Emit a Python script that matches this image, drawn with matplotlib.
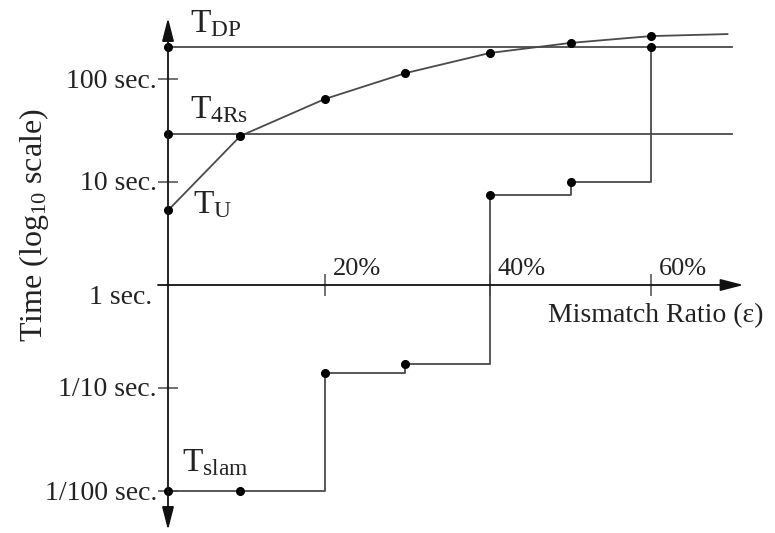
import matplotlib
matplotlib.use('Agg')
import matplotlib.pyplot as plt

plt.rcParams['font.family'] = ['Liberation Serif', 'DejaVu Serif']
plt.rcParams['mathtext.fontset'] = 'custom'
plt.rcParams['mathtext.rm'] = 'Liberation Serif'
plt.rcParams['mathtext.it'] = 'Liberation Serif:italic'

# Data
# ------------------------------------------------------------------------

# mismatch ratio (%) and time (sec.)
pct_curve = [0, 9, 19.5, 29.5, 40, 50, 60]
t_curve = [5.3, 28, 64, 114, 179, 224, 261]
pct_curve_end = 69.5
t_curve_end = 273

pct_slam = [0, 9, 19.5, 29.5, 40, 50, 60]
t_slam = [0.01, 0.01, 0.14, 0.17, 7.5, 10, 204]

t_dp = 204
t_4rs = 29
pct_line_end = 70

y_ticks = [100, 10, 0.1, 0.01]
y_tick_labels = ['100 sec.', '10 sec.', '1/10 sec.', '1/100 sec.']
x_ticks = [19.5, 40, 60]
x_tick_labels = ['20%', '40%', '60%']

# Plot
# ----------------------------------------------------------------------------------

line_col = '#4a4a4a'
text_col = '#222222'
px_per_pct = 8.05
px_per_dec = 103.0

fig = plt.figure(figsize=(7.75, 5.33), dpi=100)
ax = fig.add_axes([0, 0, 1, 1])
ax.set_yscale('log')
ax.set_xlim(-168 / px_per_pct, 607 / px_per_pct)
ax.set_ylim(10 ** (-248 / px_per_dec), 10 ** (285 / px_per_dec))
ax.axis('off')

# axes with arrows
arrow = dict(arrowstyle='<|-|>,head_length=0.7,head_width=0.18', color='#111111',
             lw=1.3, shrinkA=0, shrinkB=0, mutation_scale=20)
ax.annotate('', xy=(0, 10 ** (267 / px_per_dec)), xytext=(0, 10 ** (-245 / px_per_dec)),
            arrowprops=arrow)
arrow_x = dict(arrow, arrowstyle='-|>,head_length=0.7,head_width=0.18')
ax.annotate('', xy=(71.5, 1), xytext=(-1.24, 1), arrowprops=arrow_x)

# ticks
ax.plot([0] * len(y_ticks), y_ticks, ls='none', marker='_', ms=14, mew=1.1, color=line_col)
ax.plot(x_ticks, [1] * len(x_ticks), ls='none', marker='|', ms=16, mew=1.1, color=line_col)

for v, lab in zip(y_ticks, y_tick_labels):
    ax.annotate(lab, (0, v), xytext=(-11, -2), textcoords='offset pixels',
                ha='right', va='center', fontsize=20, color=text_col)
ax.annotate('1 sec.', (0, 1), xytext=(-16, -13), textcoords='offset pixels',
            ha='right', va='center', fontsize=20, color=text_col)
for v, lab in zip(x_ticks, x_tick_labels):
    ax.annotate(lab, (v, 1), xytext=(8, 10), textcoords='offset pixels',
                ha='left', va='baseline', fontsize=19, color=text_col)

ax.text((763 - 168) / px_per_pct, 10 ** (-31 / px_per_dec), 'Mismatch Ratio (ε)',
        ha='right', va='center', fontsize=20, color=text_col)
ax.text(-134 / px_per_pct, 10 ** (60 / px_per_dec), r'Time (log$_{10}$ scale)',
        rotation=90, ha='center', va='center', fontsize=23, color=text_col)

# horizontal reference lines
ax.plot([0, pct_line_end], [t_dp, t_dp], color=line_col, lw=1.3)
ax.plot([0, pct_line_end], [t_4rs, t_4rs], color=line_col, lw=1.3)

# curve
ax.plot(pct_curve + [pct_curve_end], t_curve + [t_curve_end], color=line_col, lw=1.3)
ax.plot(pct_curve, t_curve, ls='none', marker='o', ms=5.5, color='black')

# slam steps
ax.plot(pct_slam, t_slam, drawstyle='steps-post', color=line_col, lw=1.3)
ax.plot(pct_slam, t_slam, ls='none', marker='o', ms=5.5, color='black')

ax.plot([0, 0], [t_dp, t_4rs], ls='none', marker='o', ms=5.5, color='black')

# labels
labels = [
    (r'$\mathrm{T}_{\mathrm{DP}}$', t_dp, (22, 15)),
    (r'$\mathrm{T}_{\mathrm{4Rs}}$', t_4rs, (22, 16)),
    (r'$\mathrm{T}_{\mathrm{U}}$', t_curve[0], (25, -3)),
    (r'$\mathrm{T}_{\mathrm{slam}}$', t_slam[0], (14, 20)),
]
for lab, v, off in labels:
    ax.annotate(lab, (0, v), xytext=off, textcoords='offset pixels',
                ha='left', va='baseline', fontsize=24, color=text_col)

fig.savefig('out.png', dpi=100)
